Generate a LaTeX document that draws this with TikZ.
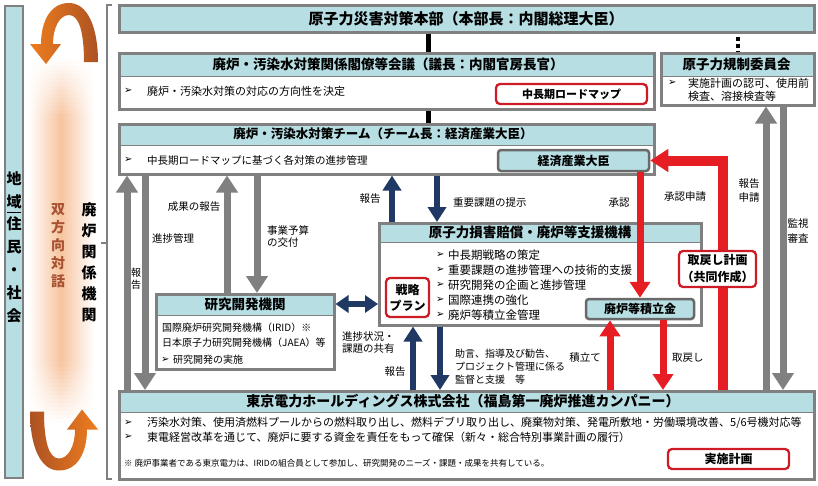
\documentclass[tikz,border=0pt]{standalone}
\usepackage{fontspec}
\setmainfont{Noto Sans CJK JP}
\newfontfamily\dvfont{DejaVu Sans}
\usetikzlibrary{arrows.meta}
\definecolor{lblue}{RGB}{183,222,227}
\definecolor{bgray}{RGB}{128,128,128}
\definecolor{sgray}{RGB}{105,105,105}
\definecolor{agray}{RGB}{128,128,128}
\definecolor{dblue}{RGB}{31,56,100}
\definecolor{ared}{RGB}{230,30,36}
\definecolor{rbox}{RGB}{205,28,38}
\definecolor{orA}{RGB}{238,125,30}
\definecolor{orB}{RGB}{172,82,35}
\definecolor{strip}{RGB}{247,196,158}
\definecolor{otext}{RGB}{168,82,50}
\newcommand{\myfs}[2]{\fontsize{#1}{#2}\selectfont}
\begin{document}
\begin{tikzpicture}[x=1pt,y=-1pt,
 frame/.style={draw=bgray,line width=2.5pt,inner sep=0pt,anchor=north west},
 ttl/.style={font={\myfs{#1}{18}\bfseries},inner sep=0pt},
 txt/.style={font={\myfs{#1}{14}},inner sep=0pt,anchor=west},
 mk/.style={inner sep=0pt,anchor=west,font={\dvfont\myfs{10}{12}}},
 subbox/.style={draw=sgray,line width=2.5pt,fill=lblue,rounded corners=3pt,inner sep=0pt,font={\myfs{12}{14}\bfseries}},
 redbox/.style={draw=rbox,line width=2.3pt,fill=white,rounded corners=4pt,inner sep=0pt,font={\myfs{#1}{16}\bfseries},align=center},
 lbl/.style={font={\myfs{10.5}{13}},inner sep=0pt,align=center},
 garrow/.style={draw=agray,line width=7pt,-{Triangle[width=21pt,length=17pt]}},
 barrow/.style={draw=dblue,line width=6.5pt,-{Triangle[width=18pt,length=15pt]}},
 rarrow/.style={draw=ared,line width=7pt,-{Triangle[width=20pt,length=16pt]}},
]
\useasboundingbox (0,0) rectangle (818,485);

% ---------- left column ----------
\node[draw=bgray,line width=2pt,fill=lblue,minimum width=18pt,minimum height=472pt,anchor=north west,inner sep=0pt] (soc) at (4,5) {};
\node[font={\myfs{15}{22.8}\bfseries},align=center,inner sep=0pt] (socT) at (14,247) {地\\域\\住\\民\\・\\社\\会};
\draw[black,line width=0.8pt] (7,212) -- (21,212);

% dialogue strip (horizontal gradient, faded at both ends)
\shade[left color=white,right color=white,middle color=strip] (28,118) rectangle (94,362);
\foreach \i in {0,...,14}{
  \pgfmathtruncatemacro{\pp}{round(100*(\i+0.5)/15)}
  \shade[left color=white,right color=white,middle color=strip!\pp!white] (28,58+4*\i) rectangle (94,62.3+4*\i);
  \shade[left color=white,right color=white,middle color=strip!\pp!white] (28,422-4*\i) rectangle (94,417.7-4*\i);
}
\node[font={\myfs{14}{18}\bfseries},text=otext,align=center,inner sep=0pt] (dlg) at (58,246) {双\\方\\向\\対\\話};
\node[font={\myfs{15}{21}\bfseries},align=center,inner sep=0pt] (org) at (89,262.5) {廃\\炉\\関\\係\\機\\関};

\draw[bgray,line width=1.5pt] (112,5) -- (107,5) -- (107,479) -- (112,479);
\draw[bgray,line width=1.5pt] (107,243) -- (101,243);

\shade[left color=orA,right color=orB] (98,62) .. controls (98,28) and (88,3) .. (69,3) .. controls (50,3) and (41,22) .. (41,44) -- (30,44) -- (46,64) -- (61,44) -- (53,44) .. controls (53,27) and (60,15) .. (69,15) .. controls (79,15) and (84,32) .. (84,62) -- cycle;
\shade[left color=orB,right color=orA] (30,411.5) .. controls (30,445.5) and (40,470.5) .. (59,470.5) .. controls (78,470.5) and (87,451.5) .. (87,429.5) -- (98,429.5) -- (82,409.5) -- (67,429.5) -- (75,429.5) .. controls (75,446.5) and (68,458.5) .. (59,458.5) .. controls (49,458.5) and (44,441.5) .. (44,411.5) -- cycle;

% ---------- HQ ----------
\node[frame,fill=lblue,minimum width=695pt,minimum height=27pt] (hq) at (118,4) {};
\node[ttl=15] (hqT) at (466,18.5) {原子力災害対策本部（本部長：内閣総理大臣）};

% ---------- council ----------
\fill[lblue] (118,52) rectangle (655,76);
\draw[bgray,line width=1pt] (118,76) -- (655,76);
\node[frame,minimum width=535pt,minimum height=56pt] (kaigi) at (118,52) {};
\node[ttl=13.5] (kaigiT) at (388,64) {廃炉・汚染水対策関係閣僚等会議（議長：内閣官房長官）};
\node[mk] (kaigiM) at (124,91) {➢};
\node[txt=11] (kaigiB) at (147,91) {廃炉・汚染水対策の対応の方向性を決定};
\node[redbox=11,minimum width=151pt,minimum height=20pt] (roadmap) at (571.5,94) {中長期ロードマップ};

% ---------- NRA ----------
\fill[lblue] (660,52) rectangle (815,76);
\draw[bgray,line width=1pt] (660,76) -- (815,76);
\node[frame,minimum width=153pt,minimum height=52pt] (nra) at (660,52) {};
\node[ttl=13.5] (nraT) at (736.5,64) {原子力規制委員会};
\node[mk] (nraM) at (668,83) {➢};
\node[txt=11] (nraB1) at (688,83) {実施計画の認可、使用前};
\node[txt=11] (nraB2) at (688,96) {検査、溶接検査等};

% ---------- team ----------
\fill[lblue] (118,123) rectangle (655,145);
\draw[bgray,line width=1pt] (118,145) -- (655,145);
\node[frame,minimum width=535pt,minimum height=50pt] (team) at (118,123) {};
\node[ttl=12.5] (teamT) at (383,134) {廃炉・汚染水対策チーム（チーム長：経済産業大臣）};
\node[mk] (teamM) at (124,160) {➢};
\node[txt=10.5] (teamB) at (147,160) {中長期ロードマップに基づく各対策の進捗管理};
\node[subbox,minimum width=151pt,minimum height=21pt] (meti) at (573.5,160.5) {経済産業大臣};

% ---------- NDF ----------
\fill[lblue] (378,222) rectangle (702,242);
\draw[bgray,line width=1pt] (378,242) -- (702,242);
\node[frame,minimum width=322pt,minimum height=102pt] (ndf) at (378,222) {};
\node[ttl=13.5] (ndfT) at (530,232) {原子力損害賠償・廃炉等支援機構};
\node[mk] (ndfM1) at (436,255) {➢}; \node[txt=11.5] (ndfB1) at (448,255) {中長期戦略の策定};
\node[mk] (ndfM2) at (436,270) {➢}; \node[txt=11.5] (ndfB2) at (448,270) {重要課題の進捗管理への技術的支援};
\node[mk] (ndfM3) at (436,285) {➢}; \node[txt=11.5] (ndfB3) at (448,285) {研究開発の企画と進捗管理};
\node[mk] (ndfM4) at (436,300) {➢}; \node[txt=11.5] (ndfB4) at (448,300) {国際連携の強化};
\node[mk] (ndfM5) at (436,315) {➢}; \node[txt=11.5] (ndfB5) at (448,315) {廃炉等積立金管理};
\node[redbox=12,minimum width=43pt,minimum height=39pt,font={\myfs{12}{16}\bfseries}] (plan) at (407.5,297.5) {戦略\\プラン};
\node[subbox,minimum width=108pt,minimum height=20pt] (fund) at (640,309) {廃炉等積立金};

% ---------- R&D ----------
\fill[lblue] (155,293) rectangle (335,315);
\draw[bgray,line width=1pt] (155,315) -- (335,315);
\node[frame,minimum width=178pt,minimum height=75pt] (rd) at (155,293) {};
\node[ttl=13.5] (rdT) at (245,304) {研究開発機関};
\node[txt=10] (rdB1) at (162,328) {国際廃炉研究開発機構（IRID）※};
\node[txt=10] (rdB2) at (162,343) {日本原子力研究開発機構（JAEA）等};
\node[mk] (rdM) at (161,360) {➢}; \node[txt=10] (rdB3) at (173,360) {研究開発の実施};

% ---------- TEPCO ----------
\fill[lblue] (118,390) rectangle (815,412);
\draw[bgray,line width=1pt] (118,412) -- (815,412);
\node[frame,minimum width=695pt,minimum height=88pt] (tepco) at (118,390) {};
\node[ttl=14] (tepcoT) at (463,401) {東京電力ホールディングス株式会社（福島第一廃炉推進カンパニー）};
\node[mk] (tM1) at (124,423) {➢}; \node[txt=11] (tB1) at (147,423) {汚染水対策、使用済燃料プールからの燃料取り出し、燃料デブリ取り出し、廃棄物対策、発電所敷地・労働環境改善、5/6号機対応等};
\node[mk] (tM2) at (124,437) {➢}; \node[txt=11] (tB2) at (147,437) {東電経営改革を通じて、廃炉に要する資金を責任をもって確保（新々・総合特別事業計画の履行）};
\node[txt=8.5] (tNote) at (124,463) {※ 廃炉事業者である東京電力は、IRIDの組合員として参加し、研究開発のニーズ・課題・成果を共有している。};
\node[redbox=12,minimum width=121pt,minimum height=20pt] (impl) at (728.5,459) {実施計画};

% ---------- black connectors ----------
\draw[black,line width=5pt] (hq.south -| 428,0) -- (kaigi.north -| 428,0);
\draw[black,line width=5pt] (kaigi.south -| 428,0) -- (team.north -| 428,0);
\draw[black,line width=4pt,dash pattern=on 4pt off 3pt,dash phase=4pt] (hq.south -| 738,0) -- (nra.north -| 738,0);

% ---------- gray arrows ----------
\draw[garrow] (tepco.north -| 127,0) -- (team.south -| 127,0);
\draw[garrow] (team.south -| 145,0) -- (tepco.north -| 145,0);
\draw[garrow] (rd.north -| 227,0) -- (team.south -| 227,0);
\draw[garrow] (team.south -| 257,0) -- (rd.north -| 257,0);
\draw[garrow] (tepco.north -| 766,0) -- (nra.south -| 766,0);
\draw[garrow] (nra.south -| 783,0) -- (tepco.north -| 783,0);

% ---------- blue arrows ----------
\draw[barrow] (ndf.north -| 392,0) -- (team.south -| 392,0);
\draw[barrow] (team.south -| 437,0) -- (ndf.north -| 437,0);
\draw[draw=dblue,line width=6pt,{Triangle[width=17pt,length=13pt]}-{Triangle[width=17pt,length=13pt]}] (rd.east |- 0,304) -- (ndf.west |- 0,304);
\draw[barrow] (tepco.north -| 413,0) -- (ndf.south -| 413,0);
\draw[barrow] (ndf.south -| 440,0) -- (tepco.north -| 440,0);

% ---------- red arrows ----------
\draw[rarrow] (meti.south -| 640,0) -- (fund.north -| 640,0);
\draw[rarrow] (tepco.north -| 610,0) -- (fund.south -| 610,0);
\draw[rarrow] (fund.south -| 663,0) -- (tepco.north -| 663,0);
\draw[draw=ared,line width=10pt,line join=miter,-{Triangle[width=22pt,length=18pt]}] (tepco.north -| 723,0) -- (723,0 |- meti.east) -- (meti.east);
\node[redbox=12,minimum width=77pt,minimum height=36pt,font={\myfs{12}{17}\bfseries}] (recov) at (717.5,269) {取戻し計画\\（共同作成）};

% ---------- labels ----------
\node[lbl,font={\myfs{10}{12}}] (l1) at (136,279) {報\\告};
\node[lbl,anchor=west] (l2) at (152,238) {進捗管理};
\node[lbl] (l3) at (194,207) {成果の報告};
\node[lbl,anchor=west,align=left,font={\myfs{10.5}{12}}] (l4) at (267,236) {事業予算\\の交付};
\node[lbl] (l5) at (370,199) {報告};
\node[lbl,anchor=west] (l6) at (453,203) {重要課題の提示};
\node[lbl] (l7) at (619,203) {承認};
\node[lbl] (l8) at (685,197) {承認申請};
\node[lbl,font={\myfs{10.5}{14}}] (l9) at (749,190) {報告\\申請};
\node[lbl,font={\myfs{10.5}{15}}] (l10) at (798,231) {監視\\審査};
\node[lbl,anchor=west,align=left,font={\myfs{10.5}{12}}] (l11) at (342,343) {進捗状況・\\課題の共有};
\node[lbl] (l12) at (395,372) {報告};
\node[lbl,anchor=west,align=left,font={\myfs{10}{13}}] (l13) at (455,367) {助言、指導及び勧告、\\プロジェクト管理に係る\\監督と支援　等};
\node[lbl] (l14) at (585,358) {積立て};
\node[lbl,anchor=west] (l15) at (672,358) {取戻し};
\end{tikzpicture}
\end{document}
